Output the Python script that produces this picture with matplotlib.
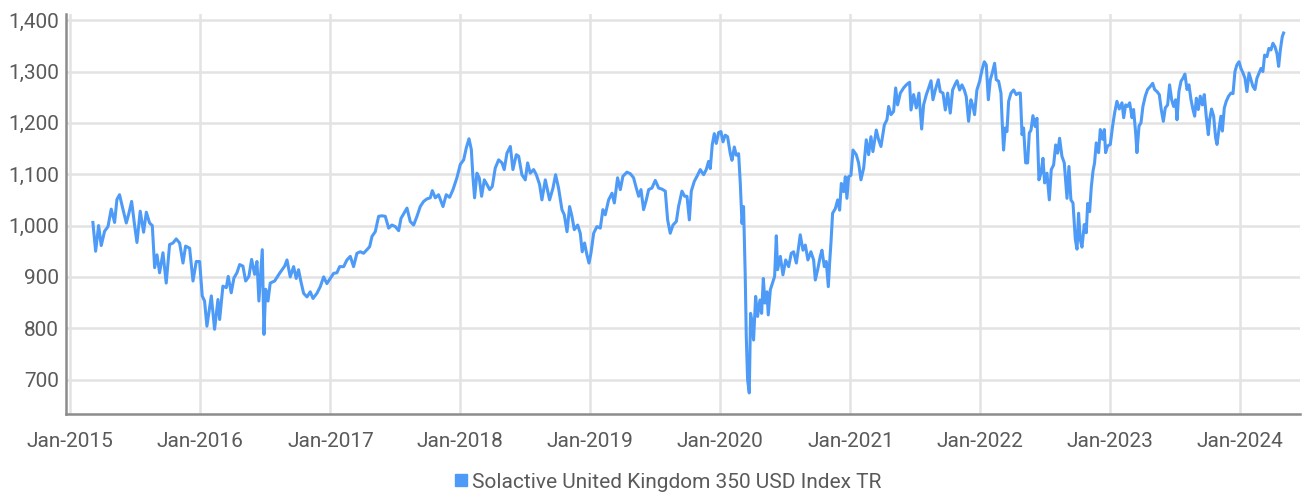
import numpy as np
import pandas as pd
import matplotlib
import matplotlib.pyplot as plt
import matplotlib.dates as mdates
from matplotlib.ticker import FuncFormatter
from matplotlib.lines import Line2D

matplotlib.use('Agg')

series_name = "Solactive United Kingdom 350 USD Index TR"

# time, in years since 1 Jan 2015
years_since_2015 = [
    0.174, 0.195, 0.218, 0.238, 0.264, 0.290, 0.315, 0.341, 0.359, 0.379,
    0.405, 0.431, 0.451, 0.472, 0.495, 0.513, 0.538, 0.564, 0.585, 0.610,
    0.631, 0.649, 0.667, 0.687, 0.713, 0.738, 0.764, 0.790, 0.815, 0.841,
    0.867, 0.887, 0.918, 0.944, 0.969, 0.995, 1.015, 1.033, 1.051, 1.085,
    1.110, 1.136, 1.149, 1.174, 1.200, 1.215, 1.238, 1.259, 1.282, 1.303,
    1.328, 1.349, 1.374, 1.395, 1.418, 1.436, 1.451, 1.477, 1.490, 1.503,
    1.521, 1.538, 1.572, 1.610, 1.649,
    1.667, 1.692, 1.718, 1.738, 1.756, 1.774, 1.795, 1.821, 1.846, 1.867,
    1.897, 1.923, 1.949, 1.974, 2.000, 2.026, 2.051, 2.072, 2.103, 2.128,
    2.154, 2.179, 2.205, 2.231, 2.256, 2.282, 2.303, 2.321, 2.346, 2.372,
    2.397, 2.423, 2.449, 2.474, 2.500, 2.526, 2.544, 2.567, 2.590, 2.615,
    2.641, 2.667, 2.692, 2.718, 2.744, 2.769, 2.785, 2.808, 2.833, 2.867,
    2.892, 2.918, 2.944, 2.974, 3.000, 3.026, 3.046, 3.067, 3.085, 3.097,
    3.110, 3.128, 3.146, 3.164, 3.185, 3.205, 3.226, 3.246, 3.269,
    3.295, 3.321, 3.338, 3.359, 3.385, 3.405, 3.431, 3.449, 3.474, 3.500,
    3.518, 3.538, 3.564, 3.585, 3.610, 3.628, 3.654, 3.687, 3.713, 3.733,
    3.756, 3.782, 3.800, 3.821, 3.841, 3.859, 3.877, 3.903, 3.923, 3.938,
    3.956, 3.974, 3.990, 4.005, 4.026, 4.051, 4.077, 4.097, 4.115, 4.141,
    4.167, 4.185, 4.210, 4.231, 4.251, 4.282, 4.308, 4.333, 4.354, 4.372,
    4.390, 4.410, 4.431, 4.449, 4.474, 4.500, 4.526, 4.551, 4.577, 4.595,
    4.615, 4.636, 4.662, 4.679, 4.705, 4.726, 4.744, 4.762, 4.777, 4.800,
    4.821, 4.846, 4.872, 4.892, 4.910,
    4.923, 4.938, 4.954, 4.969, 4.987, 5.005, 5.021, 5.038, 5.056, 5.077,
    5.090, 5.108, 5.123, 5.141, 5.154, 5.167, 5.179, 5.192, 5.200, 5.210,
    5.223, 5.233, 5.246, 5.256, 5.272, 5.287, 5.305, 5.318, 5.331, 5.344,
    5.359, 5.369, 5.385, 5.405, 5.418, 5.431, 5.441, 5.462, 5.482, 5.503,
    5.526, 5.546, 5.564, 5.585, 5.603, 5.615, 5.636, 5.654, 5.674, 5.697,
    5.718, 5.731, 5.749, 5.769, 5.782, 5.800, 5.815, 5.831, 5.841, 5.851,
    5.864, 5.885, 5.903, 5.918, 5.931, 5.949, 5.962, 5.974, 5.987, 6.005,
    6.021,
    6.046, 6.064, 6.082, 6.103, 6.123, 6.141, 6.159, 6.174, 6.200, 6.218,
    6.236, 6.262, 6.282, 6.295, 6.313, 6.333, 6.349, 6.364, 6.385, 6.410,
    6.431, 6.456, 6.467, 6.487, 6.508, 6.528, 6.549, 6.564, 6.585, 6.603,
    6.621, 6.636, 6.654, 6.677, 6.692, 6.713, 6.731, 6.749, 6.769, 6.787,
    6.808, 6.821, 6.841, 6.859, 6.877, 6.892, 6.910, 6.928, 6.944, 6.956,
    6.974, 6.995, 7.013, 7.031, 7.046, 7.062, 7.077, 7.092, 7.110, 7.123,
    7.141, 7.159, 7.169, 7.179, 7.192, 7.205, 7.218, 7.236, 7.256, 7.277,
    7.295, 7.308, 7.321, 7.333, 7.349, 7.364, 7.377, 7.390, 7.405, 7.421,
    7.436, 7.451, 7.467, 7.482, 7.495, 7.513, 7.531, 7.546, 7.564, 7.580,
    7.595, 7.610, 7.628, 7.646, 7.667, 7.682, 7.697, 7.713,
    7.731, 7.744, 7.756, 7.769, 7.782, 7.800, 7.815, 7.826, 7.841, 7.854,
    7.867, 7.879,
    7.892, 7.910, 7.923, 7.941, 7.954, 7.964, 7.979, 8.000, 8.018, 8.033,
    8.051, 8.069, 8.090, 8.103, 8.118, 8.133, 8.149, 8.167, 8.179, 8.195,
    8.205, 8.221, 8.236, 8.251, 8.269, 8.287, 8.308, 8.326, 8.341, 8.359,
    8.377, 8.392, 8.408, 8.423, 8.441, 8.456, 8.472, 8.487, 8.503, 8.513,
    8.528, 8.544, 8.559, 8.574, 8.590, 8.605, 8.621, 8.636, 8.649, 8.662,
    8.677, 8.692, 8.708, 8.723, 8.738, 8.754, 8.764, 8.779, 8.795, 8.810,
    8.821, 8.836, 8.851, 8.862, 8.877, 8.892, 8.910, 8.928, 8.944, 8.959,
    8.974, 8.990, 9.005, 9.021, 9.036, 9.051, 9.067, 9.082, 9.097, 9.113,
    9.128, 9.144, 9.159, 9.174, 9.187, 9.205, 9.220, 9.236, 9.251, 9.267,
    9.282, 9.295, 9.308, 9.323, 9.333,
]

index_values = [
    1006, 950, 1000, 961, 989, 998, 1032, 1006, 1051, 1060,
    1032, 1005, 1024, 1047, 1000, 967, 1028, 987, 1026, 1005,
    1000, 918, 943, 908, 947, 888, 963, 966, 974, 966,
    927, 960, 956, 892, 930, 930, 863, 853, 804, 863,
    798, 856, 817, 882, 879, 901, 869, 898, 908, 924,
    921, 892, 901, 934, 905, 930, 853, 953, 788, 876,
    853, 888, 892, 907, 921,
    933, 900, 920, 897, 914, 891, 868, 861, 871, 858,
    868, 881, 900, 887, 897, 907, 908, 920, 920, 933,
    940, 920, 946, 949, 946, 953, 959, 979, 988, 1018,
    1019, 1018, 995, 1001, 998, 990, 1014, 1024, 1034, 1008,
    1001, 1018, 1037, 1047, 1052, 1054, 1068, 1054, 1060, 1037,
    1060, 1055, 1070, 1093, 1119, 1128, 1151, 1169, 1148, 1096,
    1054, 1102, 1093, 1057, 1089, 1080, 1070, 1076, 1112,
    1128, 1122, 1109, 1141, 1154, 1109, 1138, 1135, 1099, 1089,
    1122, 1102, 1109, 1099, 1080, 1050, 1089, 1050, 1073, 1099,
    1073, 1031, 1021, 988, 1037, 1018, 992, 1001, 985, 949,
    966, 943, 927, 946, 985, 998, 995, 1031, 1021, 1050,
    1063, 1044, 1093, 1070, 1096, 1104, 1101, 1093, 1073, 1057,
    1070, 1031, 1050, 1070, 1073, 1088, 1073, 1071, 1067, 1011,
    985, 1001, 1008, 1037, 1067, 1057, 1057, 1011, 1067, 1086,
    1096, 1109, 1099, 1109, 1125,
    1111, 1157, 1179, 1160, 1181, 1183, 1163, 1176, 1173, 1140,
    1127, 1153, 1137, 1140, 1082, 1004, 1037, 901, 784, 700,
    674, 829, 810, 777, 862, 823, 855, 829, 897, 849,
    871, 826, 875, 891, 901, 980, 914, 940, 904, 933,
    920, 946, 949, 927, 959, 982, 952, 962, 933, 949,
    933, 894, 914, 940, 952, 920, 930, 881, 927, 965,
    1024, 1033, 1050, 1030, 1082, 1066, 1095, 1053, 1095, 1098,
    1147,
    1138, 1122, 1089, 1112, 1167, 1138, 1173, 1144, 1186, 1167,
    1154, 1196, 1206, 1232, 1216, 1222, 1268, 1235, 1258, 1268,
    1274, 1279, 1225, 1255, 1229, 1258, 1188, 1235, 1255, 1268,
    1282, 1245, 1264, 1284, 1261, 1258, 1225, 1258, 1219, 1264,
    1276, 1282, 1264, 1274, 1264, 1251, 1203, 1245, 1232, 1216,
    1264, 1281, 1303, 1319, 1313, 1245, 1284, 1297, 1316, 1284,
    1281, 1258, 1199, 1147, 1190, 1183, 1242, 1258, 1264, 1255,
    1258, 1258, 1177, 1190, 1122, 1122, 1180, 1186, 1214, 1193,
    1209, 1089, 1102, 1131, 1083, 1102, 1050, 1109, 1118, 1157,
    1141, 1170, 1135, 1122, 1053, 1115, 1050, 1044,
    973, 954, 1024, 973, 958, 1002, 986, 1043, 1027, 1075,
    1106, 1122,
    1161, 1142, 1187, 1168, 1187, 1142, 1155, 1158, 1194, 1219,
    1242, 1227, 1239, 1210, 1235, 1232, 1239, 1210, 1226, 1181,
    1142, 1194, 1200, 1232, 1252, 1265, 1271, 1277, 1265, 1261,
    1255, 1226, 1203, 1229, 1235, 1274, 1245, 1232, 1245, 1206,
    1261, 1281, 1287, 1295, 1265, 1274, 1245, 1226, 1213, 1248,
    1226, 1252, 1235, 1255, 1213, 1177, 1206, 1227, 1213, 1171,
    1158, 1187, 1213, 1184, 1229, 1242, 1252, 1258, 1257, 1300,
    1313, 1319, 1306, 1297, 1287, 1261, 1297, 1284, 1271, 1265,
    1287, 1297, 1306, 1300, 1332, 1329, 1345, 1342, 1355, 1348,
    1335, 1310, 1342, 1368, 1375,
]

tick_years = list(range(2015, 2025))
y_ticks = [700, 800, 900, 1000, 1100, 1200, 1300, 1400]

plt.rcParams['font.family'] = ['Roboto', 'DejaVu Sans']

t = np.array(years_since_2015)
dates = pd.Timestamp("2015-01-01") + pd.to_timedelta(t * 365.25, unit="D")

fig = plt.figure(figsize=(13.06, 4.98), dpi=100)
ax = fig.add_axes([66 / 1306, 1 - 414 / 498, (1300 - 66) / 1306, (414 - 14) / 498])

line_color = '#4d9bf7'
ax.plot(dates, index_values, color=line_color, linewidth=2.2, solid_joinstyle='round')

ax.set_xlim(pd.Timestamp("2014-12-20"), pd.Timestamp("2024-06-17"))
ax.set_ylim(633, 1412)

ax.set_xticks([pd.Timestamp(f"{y}-01-01") for y in tick_years])
ax.xaxis.set_major_formatter(mdates.DateFormatter("%b-%Y"))
ax.set_yticks(y_ticks)
ax.yaxis.set_major_formatter(FuncFormatter(lambda v, _: f"{v:,.0f}"))

ax.grid(True, color='#e3e3e3', linewidth=1.8)
ax.set_axisbelow(True)
for side in ['top', 'right']:
    ax.spines[side].set_visible(False)
for side in ['left', 'bottom']:
    ax.spines[side].set_color('#8c8c8c')
    ax.spines[side].set_linewidth(1.8)

ax.tick_params(axis='both', length=0, labelsize=15, labelcolor='#5a5a5a')
ax.tick_params(axis='x', pad=13)
ax.tick_params(axis='y', pad=5)

handle = Line2D([], [], marker='s', linestyle='none', color=line_color, markersize=8)
fig.legend([handle], [series_name], loc='center', bbox_to_anchor=(668 / 1306, 0.032),
           frameon=False, fontsize=15, labelcolor='#5a5a5a',
           handlelength=0.6, handletextpad=0.2, borderaxespad=0)

fig.savefig('out.png', dpi=100)
